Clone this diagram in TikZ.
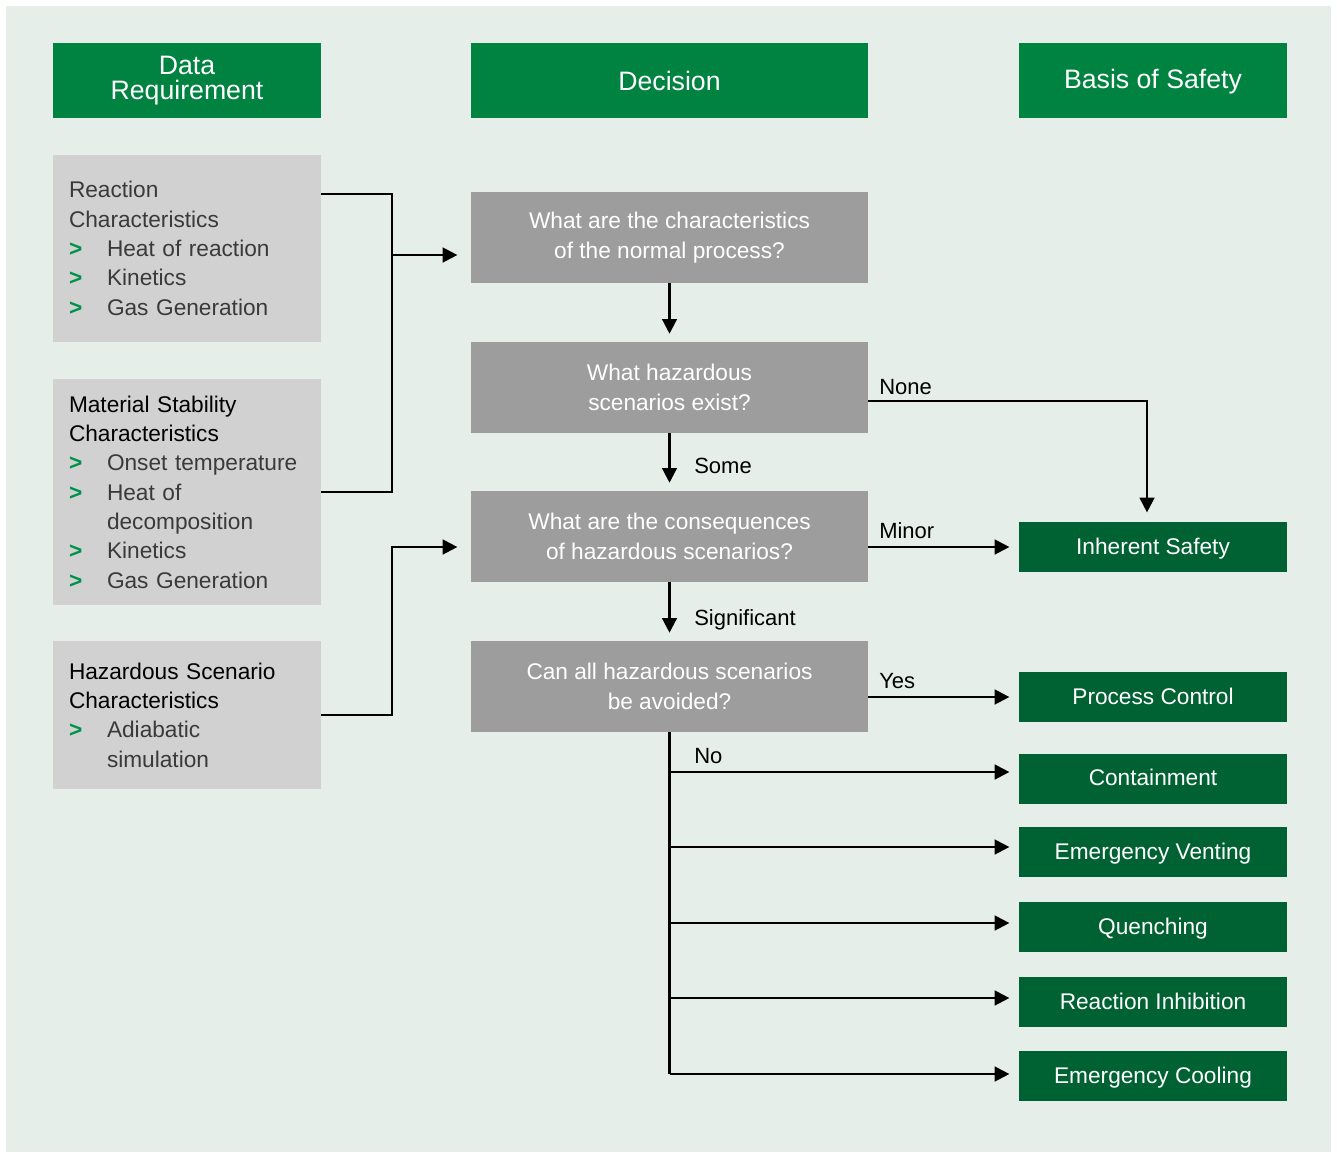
\documentclass[tikz,border=0pt]{standalone}
\usepackage{fontspec}
\setmainfont{Liberation Sans}
\usetikzlibrary{arrows.meta,positioning,calc}
\definecolor{bgc}{HTML}{E6EEE9}
\definecolor{hdgreen}{HTML}{008241}
\definecolor{basgreen}{HTML}{006233}
\definecolor{datagray}{HTML}{D0D1D0}
\definecolor{decgray}{HTML}{9C9D9C}
\definecolor{txtgray}{HTML}{3A3A3A}
\definecolor{bullet}{HTML}{00924A}
\newcommand{\blt}{\makebox[28.5pt][l]{\textcolor{bullet}{\bfseries >}}}
\newcommand{\ind}{\hspace*{28.5pt}}
\newcommand{\ttl}[1]{\textcolor{black}{#1}}

\begin{document}
\begin{tikzpicture}[x=0.75pt,y=-0.75pt,
  head/.style={fill=hdgreen,text=white,minimum width=201pt,minimum height=56.25pt,inner sep=0pt,align=center,font=\fontsize{20}{19}\selectfont},
  data/.style={fill=datagray,text=txtgray,text width=177pt,inner xsep=12pt,inner ysep=0pt,align=left,font=\fontsize{17}{22}\selectfont},
  dec/.style={fill=decgray,text=white,minimum width=297.75pt,minimum height=68.25pt,inner sep=0pt,align=center,font=\fontsize{17}{22}\selectfont},
  basis/.style={fill=basgreen,text=white,minimum width=201pt,minimum height=37.5pt,inner sep=0pt,text height=12.5pt,text depth=1.5pt,font=\fontsize{17}{20}\selectfont},
  lbl/.style={inner sep=0pt,anchor=base west,font=\fontsize{16.5}{19}\selectfont},
  line/.style={line width=1.7pt},
  arr/.style={line,-{Triangle[length=11pt,width=11pt]},shorten >=7pt}]
  \useasboundingbox (0,0) rectangle (1337,1156);
  \fill[bgc] (6,6) rectangle (1331,1152);

  \node[head] (hdata) at (187,80.5) {Data\\Requirement};
  \node[head,minimum width=297.75pt] (hdec) at (669.5,80.5) {Decision};
  \node[head,text height=14pt,text depth=2pt] (hbasis) at (1153,80.5) {Basis of Safety};

  \node[data,minimum height=140.25pt] (rc) at (187,248.5)
    {Reaction\\Characteristics\\\blt Heat of reaction\\\blt Kinetics\\\blt Gas Generation};
  \node[data,minimum height=169.5pt] (ms) at (187,492)
    {\ttl{Material Stability}\\\ttl{Characteristics}\\\blt Onset temperature\\\blt Heat of\\\ind decomposition\\\blt Kinetics\\\blt Gas Generation};
  \node[data,minimum height=111pt] (hs) at (187,715)
    {\ttl{Hazardous Scenario}\\\ttl{Characteristics}\\\blt Adiabatic\\\ind simulation};

  \node[dec] (d1) at (669.5,237.5) {What are the characteristics\\of the normal process?};
  \node[dec] (d2) at (669.5,387.5) {What hazardous\\scenarios exist?};
  \node[dec] (d3) at (669.5,536.5) {What are the consequences\\of hazardous scenarios?};
  \node[dec] (d4) at (669.5,686.5) {Can all hazardous scenarios\\be avoided?};

  \node[basis] (inh) at (1153,547) {Inherent Safety};
  \node[basis] (pc) at (1153,697) {Process Control};
  \node[basis] (cont) at (1153,778.5) {Containment};
  \node[basis] (ev) at (1153,852) {Emergency Venting};
  \node[basis] (qu) at (1153,927) {Quenching};
  \node[basis] (ri) at (1153,1002) {Reaction Inhibition};
  \node[basis] (ec) at (1153,1076) {Emergency Cooling};

  \coordinate (j1) at (392,255);
  \coordinate (j2) at (392,547);
  \draw[line] ([yshift=-29.25pt]rc.north east) -| (j1) |- (ms.east);
  \draw[arr,shorten >=10pt] (j1) -- (j1 -| d1.west);
  \draw[arr,shorten >=10pt] (hs.east) -| (j2) -- (j2 -| d3.west);

  \draw[arr,shorten >=6pt] (d1) -- (d2);
  \draw[arr,shorten >=6pt] (d2) -- (d3);
  \draw[arr,shorten >=6pt] (d3) -- (d4);
  \draw[arr] ([yshift=-10pt]d2.east) -| ([xshift=-4.5pt]inh.north);
  \draw[arr] (d3.east |- inh.west) -- (inh.west);
  \draw[arr] (d4.east |- pc.west) -- (pc.west);

  \coordinate (n1) at (d4.south |- 0,772);
  \coordinate (n2) at (d4.south |- 0,847);
  \coordinate (n3) at (d4.south |- 0,923);
  \coordinate (n4) at (d4.south |- 0,998);
  \coordinate (n5) at (d4.south |- 0,1074);
  \draw[line] (d4.south) -- (n5);
  \foreach \n/\b in {n1/cont,n2/ev,n3/qu,n4/ri,n5/ec}
    \draw[arr] (\n) -- (\n -| \b.west);

  \node[lbl] (lnone) at (879,394) {None};
  \node[lbl] (lsome) at (694,473) {Some};
  \node[lbl] (lminor) at (879,538) {Minor};
  \node[lbl] (lsig) at (694,625) {Significant};
  \node[lbl] (lyes) at (879,688) {Yes};
  \node[lbl] (lno) at (694,763) {No};
\end{tikzpicture}
\end{document}
